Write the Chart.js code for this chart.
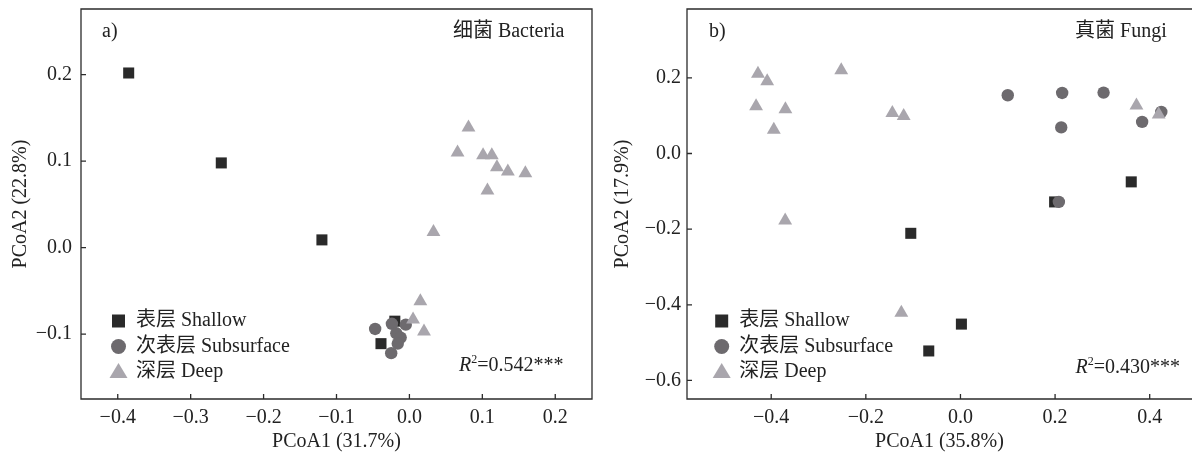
<!DOCTYPE html>
<html>
<head>
<meta charset="utf-8">
<script src="https://cdn.jsdelivr.net/npm/chart.js@4.4.1/dist/chart.umd.min.js"></script>
<style>
  html, body { margin: 0; padding: 0; background: #fff; overflow: hidden; }
  body { width: 1192px; height: 454px; position: relative; }
  .panel { position: absolute; top: 0; height: 454px; overflow: hidden; }
</style>
</head>
<body>
<div class="panel" style="left:0;width:600px"><canvas id="bac" width="600" height="454"></canvas></div>
<div class="panel" style="left:600px;width:592px"><canvas id="fun" width="600" height="454"></canvas></div>
<script>
// Bacteria (a)
const bacShallow = [[-0.385, 0.202], [-0.258, 0.098], [-0.120, 0.009], [-0.039, -0.111], [-0.020, -0.085]];
const bacSubsurface = [[-0.047, -0.094], [-0.024, -0.088], [-0.018, -0.099], [-0.012, -0.104],
                       [-0.016, -0.111], [-0.025, -0.122], [-0.005, -0.089]];
const bacDeep = [[0.015, -0.062], [0.005, -0.083], [0.020, -0.097], [0.081, 0.139], [0.066, 0.110],
                 [0.101, 0.107], [0.113, 0.107], [0.120, 0.093], [0.135, 0.088], [0.159, 0.086],
                 [0.107, 0.066], [0.033, 0.018]];
const bacXTicks = [-0.4, -0.3, -0.2, -0.1, 0.0, 0.1, 0.2];
const bacYTicks = [-0.1, 0.0, 0.1, 0.2];
const bacR2 = '0.542';

// Fungi (b)
const funShallow = [[-0.105, -0.211], [0.002, -0.451], [-0.067, -0.522], [0.361, -0.075], [0.199, -0.128]];
const funSubsurface = [[0.100, 0.154], [0.215, 0.160], [0.3025, 0.161], [0.213, 0.069],
                       [0.384, 0.0835], [0.4245, 0.110], [0.208, -0.128]];
const funDeep = [[-0.428, 0.211], [-0.4085, 0.191], [-0.252, 0.220], [-0.432, 0.125], [-0.370, 0.117],
                 [-0.3945, 0.063], [-0.144, 0.107], [-0.120, 0.099], [-0.3705, -0.177], [-0.125, -0.421],
                 [0.372, 0.127], [0.419, 0.103]];
const funXTicks = [-0.4, -0.2, 0.0, 0.2, 0.4];
const funYTicks = [-0.6, -0.4, -0.2, 0.0, 0.2];
const funR2 = '0.430';

const groupLabels = ['表层 Shallow', '次表层 Subsurface', '深层 Deep'];
const groupColors = ['#2a2a2a', '#6d6a6e', '#a9a6ad'];
const groupStyles = ['rect', 'circle', 'triangle'];

const FAMILY = '"Liberation Serif", "Times New Roman", "Noto Sans CJK SC", serif';
const INK = '#222';

function toPts(arr) { return arr.map(p => ({x: p[0], y: p[1]})); }
function fmt(v) { return (v < 0 ? '\u2212' : '') + Math.abs(v).toFixed(1); }

function drawMarker(ctx, style, x, y, color) {
  ctx.fillStyle = color;
  ctx.beginPath();
  if (style === 'rect') ctx.rect(x - 6.5, y - 6.5, 13, 13);
  else if (style === 'circle') ctx.arc(x, y, 7.5, 0, Math.PI * 2);
  else { ctx.moveTo(x, y - 9); ctx.lineTo(x + 9, y + 6); ctx.lineTo(x - 9, y + 6); ctx.closePath(); }
  ctx.fill();
}

function drawR2(ctx, value, xRight, yMid) {
  const big = '20px ' + FAMILY, small = '12px ' + FAMILY, ital = 'italic 20px ' + FAMILY;
  const rest = '=' + value + '***';
  ctx.font = big; const wRest = ctx.measureText(rest).width;
  ctx.font = small; const w2 = ctx.measureText('2').width;
  ctx.font = ital; const wR = ctx.measureText('R').width;
  let x = xRight - wRest - w2 - wR;
  const base = yMid + 7;
  ctx.textAlign = 'left';
  ctx.textBaseline = 'alphabetic';
  ctx.font = ital; ctx.fillText('R', x, base); x += wR;
  ctx.font = small; ctx.fillText('2', x, base - 8); x += w2;
  ctx.font = big; ctx.fillText(rest, x, base);
}

const decor = {
  id: 'decor',
  afterDraw(chart, args, o) {
    const {ctx, chartArea: a, scales: {x, y}} = chart;
    ctx.save();
    ctx.strokeStyle = '#2b2b2b';
    ctx.lineWidth = 1.3;
    ctx.beginPath();
    ctx.moveTo(a.right, a.top); ctx.lineTo(a.left, a.top);
    ctx.lineTo(a.left, a.bottom); ctx.lineTo(a.right, a.bottom);
    if (o.rightSide) ctx.closePath();
    ctx.stroke();
    ctx.beginPath();
    x.ticks.forEach(t => {
      const px = x.getPixelForValue(t.value);
      ctx.moveTo(px, a.bottom); ctx.lineTo(px, a.bottom - 5);
    });
    y.ticks.forEach(t => {
      const py = y.getPixelForValue(t.value);
      ctx.moveTo(a.left, py); ctx.lineTo(a.left + 5, py);
    });
    ctx.stroke();

    ctx.fillStyle = INK;
    ctx.font = '20px ' + FAMILY;
    ctx.textBaseline = 'middle';
    ctx.textAlign = 'left';
    ctx.fillText(o.tag, o.tagX, o.textY);
    ctx.textAlign = 'right';
    ctx.fillText(o.title, o.titleRight, o.textY);

    groupLabels.forEach((lab, i) => {
      const ly = o.legendY + i * 25.5;
      drawMarker(ctx, groupStyles[i], o.legendX, ly, groupColors[i]);
      ctx.fillStyle = INK;
      ctx.font = '20px ' + FAMILY;
      ctx.textAlign = 'left';
      ctx.textBaseline = 'middle';
      ctx.fillText(lab, o.legendX + 17.5, ly);
    });

    ctx.fillStyle = INK;
    drawR2(ctx, o.r2, o.r2Right, o.r2Y);
    ctx.restore();
  }
};

function makeChart(id, groups, xr, yr, xTicks, yTicks, xTitle, yTitle, yAxisW, yTitlePad, yTickPad, deco) {
  const radii = [7.8, 6.2, 8];
  const datasets = groups.map((g, i) => ({
    label: groupLabels[i],
    data: toPts(g),
    pointStyle: groupStyles[i],
    pointRadius: radii[i],
    pointBackgroundColor: groupColors[i],
    pointBorderWidth: 0,
    borderWidth: 0,
    showLine: false,
    order: 3 - i
  }));
  return new Chart(document.getElementById(id), {
    type: 'scatter',
    data: {datasets},
    options: {
      responsive: false,
      animation: false,
      devicePixelRatio: 1,
      layout: {padding: {top: 9, right: 8, bottom: 0, left: 0}},
      plugins: {legend: {display: false}, tooltip: {enabled: false}, decor: deco},
      scales: {
        x: {
          type: 'linear', min: xr[0], max: xr[1],
          afterBuildTicks: s => { s.ticks = xTicks.map(v => ({value: v})); },
          afterFit: s => { s.height = 55; s.paddingLeft = 0; s.paddingRight = 0; },
          grid: {display: false, drawTicks: false},
          border: {display: false},
          ticks: {padding: 7, color: INK, font: {family: FAMILY, size: 20}, callback: v => fmt(v), maxRotation: 0},
          title: {display: true, text: xTitle, color: INK, font: {family: FAMILY, size: 20}, padding: {top: 0, bottom: 0}}
        },
        y: {
          type: 'linear', min: yr[0], max: yr[1],
          afterBuildTicks: s => { s.ticks = yTicks.map(v => ({value: v})); },
          afterFit: s => { s.width = yAxisW; s.paddingTop = 0; s.paddingBottom = 0; },
          grid: {display: false, drawTicks: false},
          border: {display: false},
          ticks: {padding: yTickPad, color: INK, font: {family: FAMILY, size: 20}, callback: v => fmt(v)},
          title: {display: true, text: yTitle, color: INK, font: {family: FAMILY, size: 20}, padding: {top: yTitlePad, bottom: 0}}
        }
      }
    },
    plugins: [decor]
  });
}

makeChart('bac', [bacShallow, bacSubsurface, bacDeep], [-0.4504, 0.2504], [-0.175, 0.276],
  bacXTicks, bacYTicks, 'PCoA1 (31.7%)', 'PCoA2 (22.8%)', 81, 9, 9,
  {tag: 'a)', tagX: 102, textY: 32, title: '细菌 Bacteria', titleRight: 564.5,
   legendX: 118.5, legendY: 321, r2: bacR2, r2Right: 563.5, r2Y: 364, rightSide: true});

makeChart('fun', [funShallow, funSubsurface, funDeep], [-0.578, 0.4894], [-0.649, 0.382],
  funXTicks, funYTicks, 'PCoA1 (35.8%)', 'PCoA2 (17.9%)', 87, 10.5, 6,
  {tag: 'b)', tagX: 109, textY: 32, title: '真菌 Fungi', titleRight: 566.7,
   legendX: 121.7, legendY: 321, r2: funR2, r2Right: 580, r2Y: 366, rightSide: false});
</script>
</body>
</html>
